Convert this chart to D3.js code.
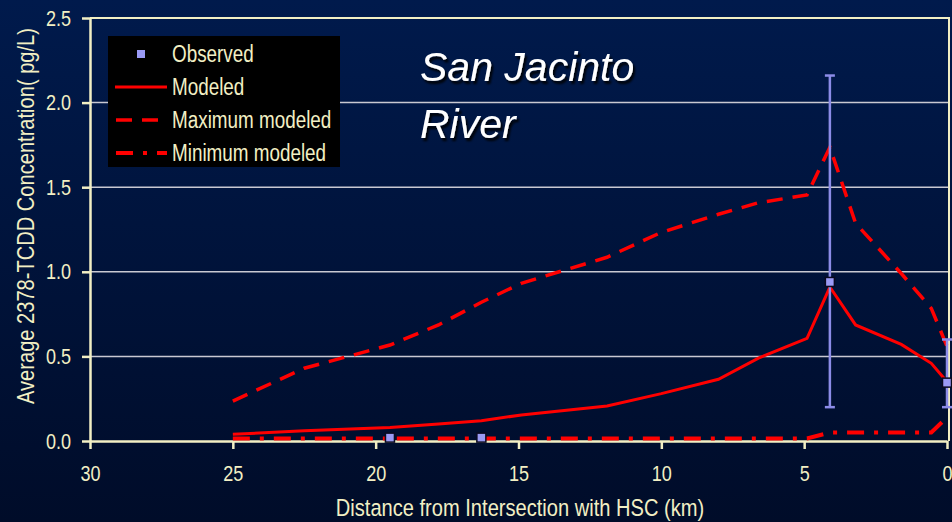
<!DOCTYPE html>
<html>
<head>
<meta charset="utf-8">
<script src="https://cdn.jsdelivr.net/npm/d3@7"></script>
<style>
  html, body { margin: 0; padding: 0; background: #000c28; }
  svg { display: block; }
  .narrow { font-family: 'Liberation Sans Narrow', 'Arial Narrow', 'Liberation Sans', Arial, sans-serif; }
</style>
</head>
<body>
<svg id="chart" width="952" height="522"></svg>
<script>
// Distance stations (km from the HSC intersection) of the model output
const modelKm = [25, 22.5, 19.5, 17.8, 16.3, 14.9, 11.9, 10, 8, 6.6, 4.9, 4.1, 3.2, 1.6, 0.55, 0];
// Modeled average 2378-TCDD concentration (pg/L)
const modeled    = [0.04, 0.06, 0.08, 0.10, 0.12, 0.154, 0.207, 0.28, 0.365, 0.49, 0.607, 0.91, 0.686, 0.571, 0.459, 0.35];
const maxModeled = [0.236, 0.43, 0.567, 0.686, 0.82, 0.932, 1.086, 1.233, 1.34, 1.408, 1.454, 1.736, 1.287, 0.99, 0.784, 0.56];
const minModeled = [0.015, 0.015, 0.015, 0.015, 0.015, 0.015, 0.015, 0.015, 0.015, 0.015, 0.015, 0.05, 0.05, 0.05, 0.05, 0.14];
// Observed samples with their ranges
const obsKm   = [19.5, 16.3, 4.1, 0];
const obsVal  = [0.02, 0.02, 0.94, 0.345];
const obsLow  = [null, null, 0.2, 0.2];
const obsHigh = [null, null, 2.16, 0.6];
// Axis ticks
const xTicks = [30, 25, 20, 15, 10, 5, 0];
const yTicks = [0, 0.5, 1.0, 1.5, 2.0, 2.5];
const legendLabels = ["Observed", "Modeled", "Maximum modeled", "Minimum modeled"];

const svg = d3.select("#chart");
const W = 952, H = 522;
const cream = "#f2efc4";
const red = "#ff0000";
const obsFill = "#9a9af5";
const errColor = "#8c8ce8";

// background
const defs = svg.append("defs");
const grad = defs.append("linearGradient").attr("id", "bg").attr("x1", 0).attr("y1", 0).attr("x2", 0).attr("y2", 1);
grad.append("stop").attr("offset", "0%").attr("stop-color", "#001a4c");
grad.append("stop").attr("offset", "100%").attr("stop-color", "#000c29");
svg.append("rect").attr("width", W).attr("height", H).attr("fill", "url(#bg)");

const shadow = defs.append("filter").attr("id", "shadow").attr("x", "-10%").attr("y", "-10%").attr("width", "130%").attr("height", "140%");
shadow.append("feDropShadow").attr("dx", 2).attr("dy", 3).attr("stdDeviation", 1.2).attr("flood-color", "#000").attr("flood-opacity", 0.9);

const x = d3.scaleLinear().domain([30, 0]).range([90, 947]);
const y = d3.scaleLinear().domain([0, 2.5]).range([441, 18]);

// gridlines
svg.append("g").selectAll("line").data(yTicks.filter(v => v > 0 && v < 2.5)).join("line")
  .attr("x1", x(30)).attr("x2", x(0) + 2)
  .attr("y1", d => y(d)).attr("y2", d => y(d))
  .attr("stroke", "#c9c9d2").attr("stroke-width", 1.5);

// plot border (top and right)
svg.append("path")
  .attr("d", `M${x(30)},${y(2.5)}H${x(0) + 2}V${y(0)}`)
  .attr("fill", "none").attr("stroke", cream).attr("stroke-width", 2);

// axes
const yAxis = d3.axisLeft(y).tickValues(yTicks).tickFormat(d3.format(".1f")).tickSize(8).tickSizeOuter(0).tickPadding(11);
const xAxis = d3.axisBottom(x).tickValues(xTicks).tickFormat(d3.format("d")).tickSize(8).tickSizeOuter(0).tickPadding(16);

const gy = svg.append("g").attr("transform", `translate(${x(30)},0)`).call(yAxis);
const gx = svg.append("g").attr("transform", `translate(0,${y(0)})`).call(xAxis);
[gx, gy].forEach(g => {
  g.select(".domain").attr("stroke", cream).attr("stroke-width", 2.5);
  g.selectAll(".tick line").attr("stroke", cream).attr("stroke-width", 2.5);
  g.selectAll(".tick text").attr("fill", cream).attr("class", "narrow").attr("font-size", 22);
});

// axis titles
svg.append("text").attr("class", "narrow")
  .attr("x", 520).attr("y", 516).attr("text-anchor", "middle")
  .attr("font-size", 24.5).attr("fill", cream)
  .text("Distance from Intersection with HSC (km)");
svg.append("text").attr("class", "narrow")
  .attr("transform", `translate(34,216) rotate(-90)`).attr("text-anchor", "middle")
  .attr("font-size", 24.5).attr("fill", cream)
  .text("Average 2378-TCDD Concentration( pg/L)");

// model lines
const line = vals => d3.line().x((d, i) => x(modelKm[i])).y(d => y(d))(vals);
svg.append("path").attr("d", line(minModeled)).attr("fill", "none")
  .attr("stroke", red).attr("stroke-width", 4).attr("stroke-dasharray", "17,10,4,10");
svg.append("path").attr("d", line(maxModeled)).attr("fill", "none")
  .attr("stroke", red).attr("stroke-width", 3.5).attr("stroke-dasharray", "16,10");
svg.append("path").attr("d", line(modeled)).attr("fill", "none")
  .attr("stroke", red).attr("stroke-width", 3);

// error bars on observed
const obs = obsKm.map((k, i) => ({ k, v: obsVal[i], lo: obsLow[i], hi: obsHigh[i] }));
const eb = svg.append("g").selectAll("g").data(obs.filter(d => d.lo !== null)).join("g")
  .attr("stroke", errColor).attr("stroke-width", 2.5);
eb.append("line").attr("x1", d => x(d.k)).attr("x2", d => x(d.k)).attr("y1", d => y(d.lo)).attr("y2", d => y(d.hi));
eb.append("line").attr("x1", d => x(d.k) - 5).attr("x2", d => x(d.k) + 5).attr("y1", d => y(d.hi)).attr("y2", d => y(d.hi));
eb.append("line").attr("x1", d => x(d.k) - 5).attr("x2", d => x(d.k) + 5).attr("y1", d => y(d.lo)).attr("y2", d => y(d.lo));

// observed markers
svg.append("g").selectAll("rect").data(obs).join("rect")
  .attr("x", d => x(d.k) - 4.5).attr("y", d => y(d.v) - 4.5)
  .attr("width", 9).attr("height", 9)
  .attr("fill", obsFill).attr("stroke", "#0a0a20").attr("stroke-width", 1.5);

// legend
const lg = svg.append("g");
lg.append("rect").attr("x", 108).attr("y", 36).attr("width", 232).attr("height", 131).attr("fill", "#000");
const rowY = [54, 87, 120, 153];
lg.append("rect").attr("x", 137).attr("y", rowY[0] - 4).attr("width", 8).attr("height", 8).attr("fill", obsFill);
lg.append("line").attr("x1", 115).attr("x2", 167).attr("y1", rowY[1]).attr("y2", rowY[1])
  .attr("stroke", red).attr("stroke-width", 3);
lg.append("line").attr("x1", 116).attr("x2", 167).attr("y1", rowY[2]).attr("y2", rowY[2])
  .attr("stroke", red).attr("stroke-width", 3.5).attr("stroke-dasharray", "16,10");
lg.append("line").attr("x1", 116).attr("x2", 167).attr("y1", rowY[3]).attr("y2", rowY[3])
  .attr("stroke", red).attr("stroke-width", 4).attr("stroke-dasharray", "17,10,4,10");
lg.selectAll("text.lbl").data(legendLabels).join("text").attr("class", "narrow")
  .attr("x", 172).attr("y", (d, i) => rowY[i] + 8)
  .attr("font-size", 23).attr("fill", cream).text(d => d);

// condense the label font to a narrow face when no narrow family is installed
svg.selectAll("text.narrow").each(function () {
  const w = this.getComputedTextLength();
  d3.select(this).attr("textLength", w * 0.82).attr("lengthAdjust", "spacingAndGlyphs");
});

// title
const title = svg.append("text").attr("font-family", "'Liberation Sans', Arial, sans-serif")
  .attr("font-style", "italic").attr("font-size", 41).attr("fill", "#ffffff")
  .attr("filter", "url(#shadow)");
title.append("tspan").attr("x", 420).attr("y", 81).text("San Jacinto");
title.append("tspan").attr("x", 420).attr("y", 138).text("River");
</script>
</body>
</html>
